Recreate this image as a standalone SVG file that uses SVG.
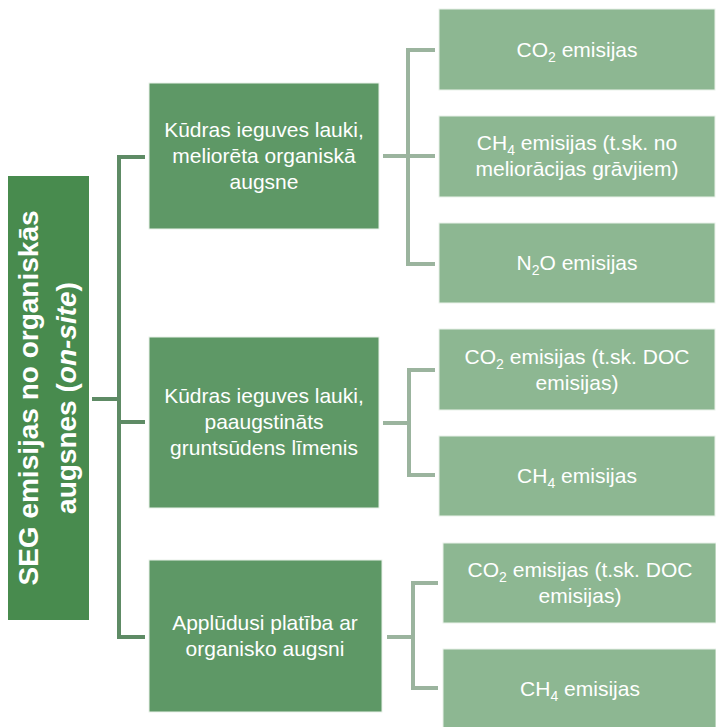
<svg xmlns="http://www.w3.org/2000/svg" width="716" height="727" viewBox="0 0 716 727">
<style>
.root{fill:#488B4E;}
.mid{fill:#5E9866;stroke:#EAF2EA;stroke-width:1;}
.leaf{fill:#8DB792;stroke:#EAF2EA;stroke-width:1;}
.t{font-family:"Liberation Sans",Arial,sans-serif;font-size:21px;fill:#fff;text-anchor:middle;}
.rt{font-family:"Liberation Sans",Arial,sans-serif;font-size:28px;font-weight:bold;fill:#fff;text-anchor:middle;}
.cl{fill:none;stroke:#5E8B65;stroke-width:4;}
.cr{fill:none;stroke:#9BB49E;stroke-width:4;}
.sub{font-size:14px;}
</style>
<rect width="716" height="727" fill="#fff"/>
<g id="connectors">
<path class="cl" d="M92,399 H119 M145,157 H119 V637 H145 M119,422 H145"/>
<path class="cr" d="M383,156 H408 M435,50 H408 V264 H435 M408,156 H435"/>
<path class="cr" d="M383,423 H409 M435,370 H409 V475 H435"/>
<path class="cr" d="M387,637 H413 M438,583 H413 V688 H438"/>
</g>
<g id="root">
<rect class="root" x="8" y="176" width="81" height="444"/>
<text class="rt" transform="translate(38,398) rotate(-90)">SEG emisijas no organiskās</text>
<text class="rt" transform="translate(76,398) rotate(-90)">augsnes (<tspan font-style="italic">on-site</tspan>)</text>
</g>
<g id="mid1">
<rect class="mid" x="149" y="83" width="230" height="146"/>
<text class="t" x="264" y="137">Kūdras ieguves lauki,</text>
<text class="t" x="264" y="163">meliorēta organiskā</text>
<text class="t" x="264" y="189">augsne</text>
</g>
<g id="mid2">
<rect class="mid" x="149" y="337" width="230" height="171"/>
<text class="t" x="264" y="403">Kūdras ieguves lauki,</text>
<text class="t" x="264" y="429">paaugstināts</text>
<text class="t" x="264" y="455">gruntsūdens līmenis</text>
</g>
<g id="mid3">
<rect class="mid" x="149" y="560" width="233" height="152"/>
<text class="t" x="265" y="630">Applūdusi platība ar</text>
<text class="t" x="265" y="656">organisko augsni</text>
</g>
<g id="leaf1a">
<rect class="leaf" x="439" y="9" width="276" height="81"/>
<text class="t" x="577" y="57">CO<tspan class="sub" dy="5">2</tspan><tspan dy="-5"> emisijas</tspan></text>
</g>
<g id="leaf1b">
<rect class="leaf" x="439" y="116" width="276" height="81"/>
<text class="t" x="577" y="150">CH<tspan class="sub" dy="5">4</tspan><tspan dy="-5"> emisijas (t.sk. no</tspan></text>
<text class="t" x="577" y="176">meliorācijas grāvjiem)</text>
</g>
<g id="leaf1c">
<rect class="leaf" x="439" y="223" width="276" height="80"/>
<text class="t" x="577" y="270">N<tspan class="sub" dy="5">2</tspan><tspan dy="-5">O emisijas</tspan></text>
</g>
<g id="leaf2a">
<rect class="leaf" x="439" y="329" width="276" height="81"/>
<text class="t" x="577" y="364">CO<tspan class="sub" dy="5">2</tspan><tspan dy="-5"> emisijas (t.sk. DOC</tspan></text>
<text class="t" x="577" y="390">emisijas)</text>
</g>
<g id="leaf2b">
<rect class="leaf" x="439" y="436" width="276" height="80"/>
<text class="t" x="577" y="483">CH<tspan class="sub" dy="5">4</tspan><tspan dy="-5"> emisijas</tspan></text>
</g>
<g id="leaf3a">
<rect class="leaf" x="443" y="543" width="273" height="80"/>
<text class="t" x="580" y="577">CO<tspan class="sub" dy="5">2</tspan><tspan dy="-5"> emisijas (t.sk. DOC</tspan></text>
<text class="t" x="580" y="603">emisijas)</text>
</g>
<g id="leaf3b">
<rect class="leaf" x="443" y="649" width="273" height="80"/>
<text class="t" x="580" y="696">CH<tspan class="sub" dy="5">4</tspan><tspan dy="-5"> emisijas</tspan></text>
</g>
</svg>
